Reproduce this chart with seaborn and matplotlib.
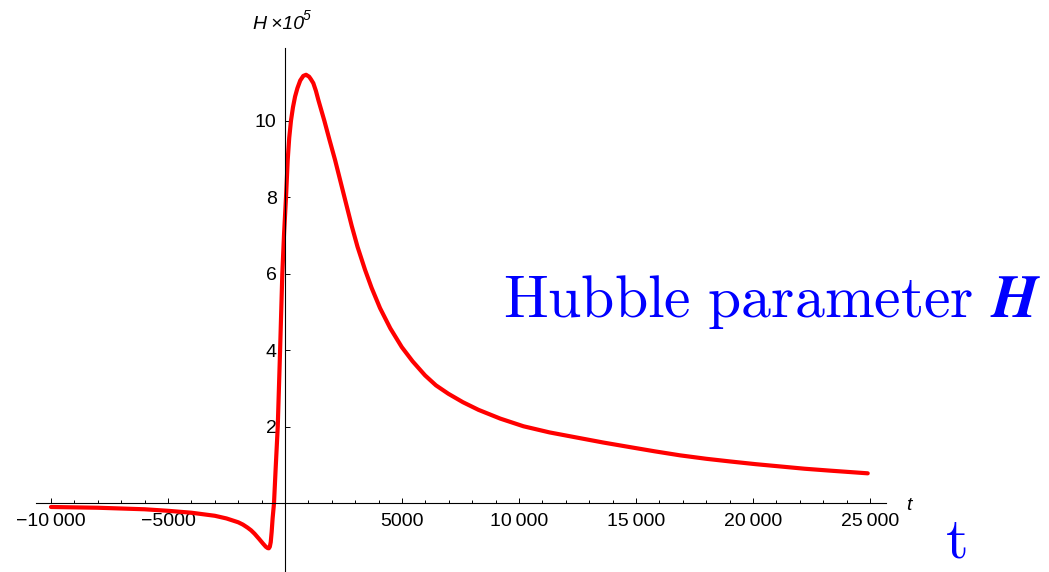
import matplotlib
matplotlib.use("Agg")
import matplotlib.pyplot as plt
import seaborn as sns
from matplotlib.ticker import FixedLocator, FixedFormatter, MultipleLocator

# values (t, H x 10^5)
t_vals = [-10000, -9000, -8000, -7000, -6000, -5000, -4000, -3000, -2500, -2000,
          -1800, -1600, -1450, -1300, -1100, -950, -820, -740, -690, -650,
          -610, -570, -530, -470, -400, -310, -210, -115, -40, 43,
          115, 180, 255, 340, 430, 530, 650, 780, 900, 1030,
          1110, 1210, 1320, 1425, 1680, 1900, 2140, 2540, 2850, 3100,
          3420, 3700, 4060, 4500, 4990, 5450, 5985, 6450, 6980, 7600,
          8265, 9200, 10190, 11300, 12600, 13600, 14740, 15800, 16880, 18000,
          19020, 20100, 21150, 22200, 23290, 24900]
h_vals = [-0.10, -0.11, -0.12, -0.14, -0.16, -0.20, -0.25, -0.33, -0.40, -0.50,
          -0.56, -0.64, -0.71, -0.80, -0.94, -1.05, -1.14, -1.175, -1.18, -1.14,
          -1.02, -0.75, -0.40, 0.00, 0.90, 2.00, 4.00, 6.00, 7.05, 8.00,
          8.97, 9.55, 10.00, 10.35, 10.63, 10.85, 11.05, 11.17, 11.20, 11.15,
          11.08, 10.98, 10.78, 10.54, 10.00, 9.50, 8.97, 8.00, 7.25, 6.70,
          6.10, 5.63, 5.10, 4.57, 4.08, 3.71, 3.34, 3.08, 2.86, 2.64,
          2.44, 2.21, 2.01, 1.85, 1.70, 1.585, 1.465, 1.355, 1.25, 1.16,
          1.09, 1.02, 0.96, 0.90, 0.85, 0.78]

x_ticks = [-10000, -5000, 5000, 10000, 15000, 20000, 25000]
x_labels = ["\u221210\u2009000", "\u22125000", "5000", "10\u2009000",
            "15\u2009000", "20\u2009000", "25\u2009000"]
y_ticks = [2, 4, 6, 8, 10]
y_labels = ["2", "4", "6", "8", "10"]

sns.set_theme(style="white")
plt.rcParams["font.family"] = ["Liberation Sans", "DejaVu Sans"]

W, H = 1049, 572
fig = plt.figure(figsize=(W / 100, H / 100), dpi=100)
ax = fig.add_axes([36 / W, 0, 850 / W, 524 / H])

sns.lineplot(x=t_vals, y=h_vals, color="#ff0000", linewidth=3, ax=ax,
             estimator=None, sort=False)

ax.set_xlim(-10640, 25680)
ax.set_ylim(-1.80, 11.9)

for side in ["top", "right"]:
    ax.spines[side].set_visible(False)
ax.spines["bottom"].set_position(("data", 0))
ax.spines["left"].set_position(("data", 0))
for side in ["bottom", "left"]:
    ax.spines[side].set_color("black")
    ax.spines[side].set_linewidth(0.8)

ax.xaxis.set_major_locator(FixedLocator(x_ticks))
ax.xaxis.set_major_formatter(FixedFormatter(x_labels))
ax.xaxis.set_minor_locator(MultipleLocator(1000))
ax.yaxis.set_major_locator(FixedLocator(y_ticks))
ax.yaxis.set_major_formatter(FixedFormatter(y_labels))

ax.tick_params(axis="x", which="major", direction="in", length=3.3, width=0.7,
               color="black", labelcolor="black", labelsize=14, pad=7, bottom=True)
ax.tick_params(axis="x", which="minor", direction="in", length=2, width=0.7,
               color="black", bottom=True)
ax.tick_params(axis="y", which="major", direction="in", length=3.6, width=0.7,
               color="black", labelcolor="black", labelsize=14, pad=6, left=True)

def fx(x):
    return x / W

def fy(y):
    return 1 - y / H

# axis labels
fig.text(fx(253), fy(29), "H\u2009\u00d710", fontsize=14, style="italic",
         color="black", ha="left", va="baseline")
fig.text(fx(303), fy(20), "5", fontsize=10, style="italic", color="black",
         ha="left", va="baseline")
fig.text(fx(906), fy(510), "t", fontsize=14, style="italic", color="black",
         ha="left", va="baseline")

# blue annotations
fig.text(fx(503), fy(317), r"$\mathrm{Hubble\ parameter}$", math_fontfamily="cm",
         fontsize=43, color="#0000ff", ha="left", va="baseline")
fig.text(fx(990), fy(317), r"$\mathbfit{H}$", math_fontfamily="stix",
         fontsize=43, color="#0000ff", ha="left", va="baseline")
fig.text(fx(945), fy(569), r"$\mathrm{t}$", math_fontfamily="cm",
         fontsize=42, color="#0000ff", ha="left", va="bottom")

fig.savefig("out.png", dpi=100)
